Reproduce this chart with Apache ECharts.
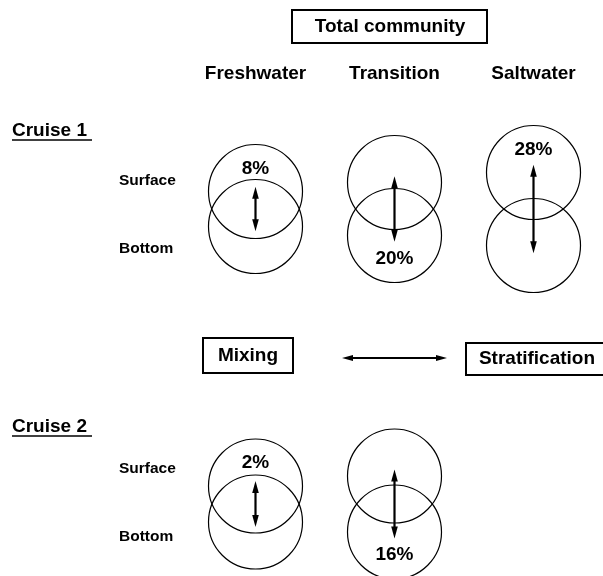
<!DOCTYPE html>
<html>
<head>
<meta charset="utf-8">
<script src="https://cdn.jsdelivr.net/npm/echarts@6/dist/echarts.min.js"></script>
<style>
  html, body { margin: 0; padding: 0; background: #fff; }
  #chart { width: 603px; height: 576px; }
</style>
</head>
<body>
<div id="chart"></div>
<script>
// habitats along the salinity gradient
var habitats = ['Freshwater', 'Transition', 'Saltwater'];
var cruises = ['Cruise 1', 'Cruise 2'];
var depths = ['Surface', 'Bottom'];

// separation of surface / bottom communities (diagram units)
var cruise1Shift = [35, 53, 73];
var cruise2Shift = [36, 56, null];

// % difference between surface and bottom
var cruise1Pct = [8, 20, 28];
var cruise2Pct = [2, 16, null];
var cruise1PctAt = ['Surface', 'Bottom', 'Surface'];
var cruise2PctAt = ['Surface', 'Bottom', null];

var scaleLabels = ['Mixing', 'Stratification'];
var title = 'Total community';

// layout
var rowMid = [209, 504];
var headingY = 74;
var font = '"Liberation Sans", Arial, Helvetica, sans-serif';
var bigFont = 'bold 19px ' + font;
var smallFont = 'bold 15.5px ' + font;

var shifts = [cruise1Shift, cruise2Shift];
var pcts = [cruise1Pct, cruise2Pct];
var pctAt = [cruise1PctAt, cruise2PctAt];

var circleData = [], arrowData = [], pctData = [];
for (var c = 0; c < cruises.length; c++) {
    for (var i = 0; i < habitats.length; i++) {
        var s = shifts[c][i];
        if (s == null) continue;
        var ySurf = rowMid[c] - s / 2, yBot = rowMid[c] + s / 2;
        circleData.push([i, ySurf], [i, yBot]);
        var half = s * 0.58 + 2;
        arrowData.push([i, rowMid[c] - half, rowMid[c] + half]);
        var py = pctAt[c][i] === 'Surface' ? ySurf - 23 : yBot + 23;
        pctData.push([i, py, pcts[c][i]]);
    }
}
var headingData = habitats.map(function (h, i) { return [i, headingY]; });

function txt(text, x, y, f, align) {
    return {
        type: 'text',
        style: {
            text: text, x: x, y: y, font: f, fill: '#000',
            textAlign: align || 'center', textVerticalAlign: 'middle'
        }
    };
}
function box(x, y, w, h) {
    return { type: 'rect', shape: { x: x, y: y, width: w, height: h },
        style: { fill: 'none', stroke: '#000', lineWidth: 2 } };
}

var graphics = [
    box(292, 10, 195, 33),
    txt(title, 390, 27, bigFont),
    box(203, 338, 90, 35),
    txt(scaleLabels[0], 248, 356, bigFont),
    box(466, 343, 150, 32),
    txt(scaleLabels[1], 537, 359, bigFont),
    { type: 'line', shape: { x1: 350, y1: 358, x2: 439, y2: 358 },
      style: { stroke: '#000', lineWidth: 2 } },
    { type: 'polygon', shape: { points: [[342, 358], [353, 355], [353, 361]] }, style: { fill: '#000' } },
    { type: 'polygon', shape: { points: [[447, 358], [436, 355], [436, 361]] }, style: { fill: '#000' } }
];
var cruiseY = [131, 427];
var depthY = [[181, 249], [469, 537]];
cruises.forEach(function (name, c) {
    graphics.push(txt(name, 12, cruiseY[c], bigFont, 'left'));
    graphics.push({ type: 'line', shape: { x1: 12, y1: cruiseY[c] + 9, x2: 92, y2: cruiseY[c] + 9 },
        style: { stroke: '#000', lineWidth: 1.5 } });
    depths.forEach(function (d, k) {
        graphics.push(txt(d, 119, depthY[c][k], smallFont, 'left'));
    });
});

var labelStyle = { show: true, position: 'inside', color: '#000', fontWeight: 'bold', fontSize: 19,
    fontFamily: font, opacity: 1 };

var chart = echarts.init(document.getElementById('chart'));
chart.setOption({
    animation: false,
    backgroundColor: '#fff',
    grid: { left: 186, width: 417, top: 0, bottom: 0 },
    xAxis: { type: 'category', data: habitats, show: false },
    yAxis: { type: 'value', min: 0, max: 576, inverse: true, show: false },
    graphic: graphics,
    series: [
        {
            name: 'communities', type: 'scatter', data: circleData,
            symbol: 'circle', symbolSize: 94, silent: true,
            itemStyle: { color: 'rgba(0,0,0,0)', borderColor: '#000', borderWidth: 1.2, opacity: 1 }
        },
        {
            name: 'arrows', type: 'custom', data: arrowData, silent: true,
            renderItem: function (params, api) {
                var p1 = api.coord([api.value(0), api.value(1)]);
                var p2 = api.coord([api.value(0), api.value(2)]);
                var x = p1[0], hl = 12, hw = 3.3;
                return {
                    type: 'group',
                    children: [
                        { type: 'line', shape: { x1: x, y1: p1[1] + hl - 2, x2: x, y2: p2[1] - hl + 2 },
                          style: { stroke: '#000', lineWidth: 2.2 } },
                        { type: 'polygon', shape: { points: [[x, p1[1]], [x - hw, p1[1] + hl], [x + hw, p1[1] + hl]] },
                          style: { fill: '#000' } },
                        { type: 'polygon', shape: { points: [[x, p2[1]], [x - hw, p2[1] - hl], [x + hw, p2[1] - hl]] },
                          style: { fill: '#000' } }
                    ]
                };
            }
        },
        {
            name: 'headings', type: 'scatter', data: headingData, symbolSize: 0, silent: true,
            itemStyle: { opacity: 1 },
            label: Object.assign({}, labelStyle, {
                formatter: function (p) { return habitats[p.data[0]]; } })
        },
        {
            name: 'percent', type: 'scatter', data: pctData, symbolSize: 0, silent: true,
            itemStyle: { opacity: 1 },
            label: Object.assign({}, labelStyle, {
                formatter: function (p) { return p.data[2] + '%'; } })
        }
    ]
});
</script>
</body>
</html>
